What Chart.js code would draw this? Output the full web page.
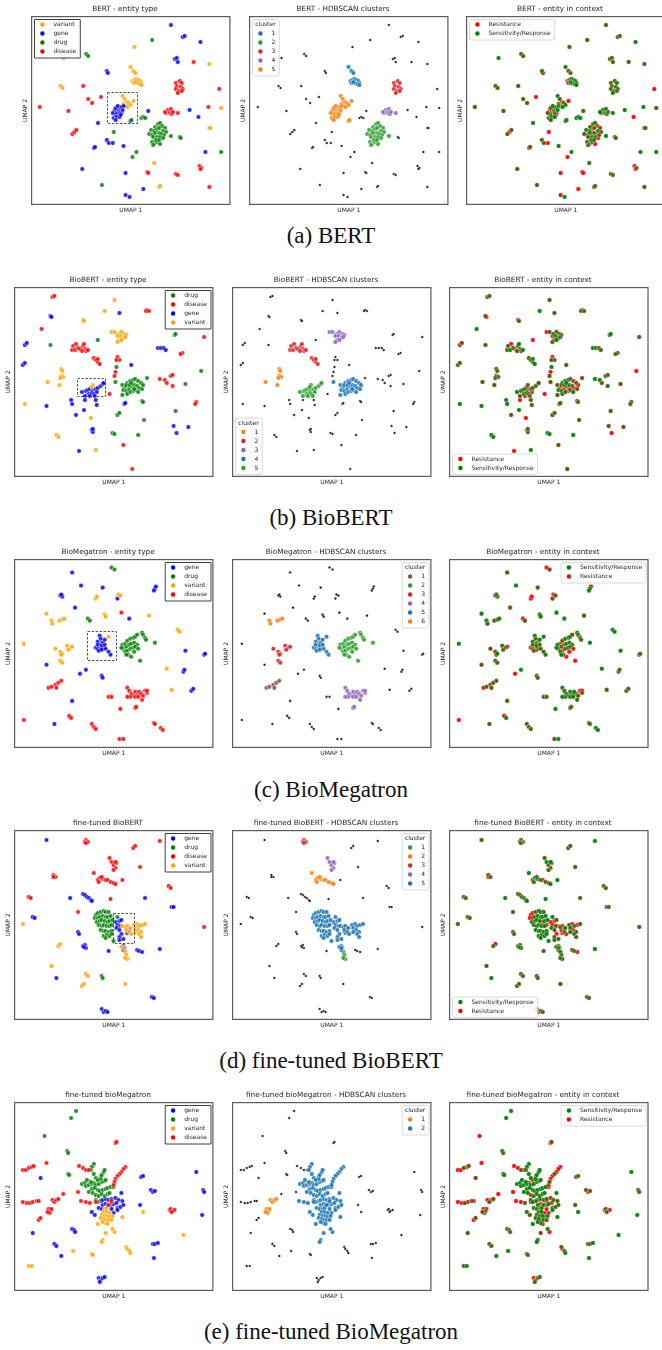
<!DOCTYPE html>
<html><head><meta charset="utf-8">
<script src="https://cdn.jsdelivr.net/npm/chart.js@4.4.1/dist/chart.umd.min.js"></script>
<style>
html,body{margin:0;padding:0;background:#fff;width:662px;height:1350px;overflow:hidden;position:relative}
canvas{position:absolute}
.cap{position:absolute;left:0;width:662px;text-align:center;font-family:'Liberation Serif','DejaVu Serif',serif;font-size:23px;color:#111;line-height:24px;white-space:nowrap}
</style></head><body>
<script>
// UMAP embeddings: each point is [umap1, umap2, hdbscanCluster (0 = noise), context]
// context: 'r' = Resistance, 's' = Sensitivity/Response, 'b' = seen in both contexts

// ---------- BERT ----------
const bertVariant = [[3.3,14.7,0,'s'],[10.5,15.8,0,'b'],[3.0,11.9,0,'b'],[3.2,11.7,0,'b'],
[10.1,13.8,1,'s'],[10.4,13.4,1,'b'],[10.6,13.2,1,'b'],
[10.3,12.4,1,'r'],[10.5,12.5,1,'b'],[10.7,12.6,1,'s'],[10.9,12.5,1,'b'],[11.1,12.4,1,'s'],[11.2,12.2,1,'b'],[10.4,12.2,1,'b'],[10.6,12.2,1,'s'],[10.8,12.2,1,'b'],[11.0,12.1,1,'r'],[10.6,12.3,1,'b'],[11.2,12.0,1,'s'],
[9.3,10.9,5,'s'],[9.5,10.6,5,'b'],[9.7,10.3,5,'r'],[9.9,10.2,5,'b'],[10.1,10.0,5,'s'],[10.4,10.4,5,'r'],[9.6,9.9,5,'b'],[9.8,9.8,5,'s'],[9.4,10.1,5,'b'],
[18.1,14.1,0,'s'],[19.3,9.7,0,'b'],[18.1,7.7,0,'b'],[18.2,7.7,0,'b'],[12.5,4.2,0,'s'],[13.0,1.8,0,'b'],[13.1,1.9,0,'b']];
const bertGene = [[14.2,18.0,0,'b'],[15.4,16.8,0,'b'],[15.6,16.9,0,'b'],[17.2,16.3,0,'s'],
[14.6,14.6,0,'b'],[14.8,14.7,0,'b'],[14.9,14.3,0,'b'],[7.7,13.4,0,'s'],[7.8,13.2,0,'r'],
[8.4,8.7,5,'b'],[8.6,9.0,5,'s'],[8.7,9.2,5,'r'],[8.9,9.5,5,'b'],[9.1,9.7,5,'s'],[9.2,9.8,5,'b'],[8.5,9.5,5,'r'],[8.6,9.7,5,'b'],[8.8,9.9,5,'s'],[9.0,9.2,5,'b'],[9.2,9.2,5,'r'],[9.3,9.5,5,'s'],[8.7,8.8,5,'b'],[9.0,8.8,5,'s'],[8.3,9.2,5,'b'],[9.4,9.9,5,'b'],[9.1,9.0,5,'r'],[8.6,8.5,5,'s'],[10.1,8.4,5,'s'],
[11.9,9.4,0,'b'],[16.1,9.5,0,'s'],[17.0,8.8,0,'r'],[6.8,8.2,0,'s'],[7.7,6.5,0,'b'],[7.9,6.2,0,'b'],[8.3,6.2,0,'r'],
[6.4,5.7,0,'r'],[6.5,5.8,0,'b'],[9.4,5.9,0,'s'],[17.7,5.3,0,'s'],[5.2,3.6,0,'b'],[9.6,3.2,0,'r'],[11.4,1.6,0,'r'],[9.6,1.0,0,'r'],[10.0,0.8,0,'s']];
const bertDrug = [[12.3,16.5,0,'b'],[5.6,15.1,0,'b'],[5.8,14.9,0,'b'],[11.2,8.7,0,'s'],[11.4,8.8,0,'s'],[11.6,8.7,0,'s'],[10.2,8.5,5,'b'],
[12.6,7.8,2,'b'],[12.9,8.1,2,'s'],[13.1,8.2,2,'b'],[13.3,7.9,2,'r'],[13.6,7.7,2,'b'],[12.2,7.5,2,'s'],[12.5,7.4,2,'b'],[12.8,7.6,2,'r'],[13.0,7.7,2,'b'],[13.4,7.4,2,'s'],[13.7,7.3,2,'b'],[12.0,7.1,2,'b'],[12.3,7.0,2,'r'],[12.6,7.2,2,'s'],[13.0,7.2,2,'b'],[13.2,7.1,2,'r'],[13.5,7.0,2,'b'],[12.4,6.8,2,'b'],[12.8,6.8,2,'s'],[13.1,6.8,2,'b'],[13.4,6.7,2,'r'],[12.3,6.3,2,'b'],[12.6,6.2,2,'s'],[12.8,6.3,2,'b'],[13.1,6.1,2,'r'],[12.4,6.0,2,'b'],[12.7,6.5,2,'b'],[13.0,6.5,2,'s'],[14.2,6.9,2,'s'],
[8.4,7.3,0,'r'],[15.1,6.8,0,'b'],[15.2,6.7,0,'b'],[10.7,5.3,0,'s'],[10.3,4.8,0,'r'],[19.3,5.3,0,'s'],[7.2,2.0,0,'b']];
const bertDisease = [[0.9,9.8,0,'b'],[3.8,9.4,0,'b'],[5.3,11.9,0,'b'],[5.8,10.6,0,'b'],[6.2,10.2,0,'b'],[7.1,10.8,0,'r'],
[4.2,7.1,0,'b'],[4.4,7.3,0,'r'],[4.6,7.5,0,'b'],[16.5,14.3,0,'b'],[19.1,11.6,0,'r'],[18.0,9.8,0,'s'],
[14.7,12.2,3,'b'],[15.1,12.4,3,'b'],[15.3,12.2,3,'s'],[14.8,11.9,3,'b'],[15.2,11.8,3,'b'],[15.4,11.6,3,'s'],[14.7,11.6,3,'b'],[15.0,11.4,3,'b'],[15.3,11.4,3,'b'],[14.9,11.2,3,'s'],
[13.9,9.5,4,'b'],[14.2,9.6,4,'s'],[13.7,9.2,4,'b'],[14.1,9.2,4,'b'],[14.3,9.1,4,'b'],[13.6,9.3,4,'s'],[14.4,9.3,4,'b'],[14.9,9.2,4,'s'],
[11.8,3.3,0,'r'],[11.9,3.2,0,'r'],[14.7,3.1,0,'b'],[14.9,3.0,0,'b'],[17.1,3.9,0,'r'],[17.3,3.7,0,'b'],[17.2,3.6,0,'r'],[18.1,1.8,0,'b']];
const bertTypeOrder = ['variant','gene','drug','disease'];
const bertClusterColors = ['#1f77b4','#2ca02c','#d62728','#9467bd','#ff7f0e'];
const bertBox = [7.7,10.7,8.2,11.3];

// ---------- BioBERT ----------
const biobertDrug = [[16.3,14.2,0,'s'],[16.4,14.3,0,'s'],[3.7,13.2,0,'b'],[8.5,13.7,0,'r'],[19.0,10.6,0,'r'],[17.4,9.3,0,'b'],[13.5,9.9,0,'b'],[10.4,11.0,0,'s'],[10.3,9.5,4,'b'],
[11.0,9.2,4,'b'],[11.3,9.0,4,'r'],[11.5,9.4,4,'s'],[11.8,9.6,4,'b'],[12.1,9.7,4,'s'],[12.3,9.8,4,'b'],[12.6,9.6,4,'r'],[12.9,9.4,4,'b'],[11.1,8.7,4,'s'],[11.4,8.6,4,'b'],[11.7,8.8,4,'r'],[11.9,9.1,4,'b'],[12.2,9.2,4,'s'],[12.5,9.1,4,'b'],[12.7,8.9,4,'r'],[13.0,8.8,4,'b'],[11.0,8.2,4,'b'],[11.5,8.3,4,'s'],[11.8,8.5,4,'b'],[12.1,8.6,4,'r'],[12.3,8.7,4,'b'],[12.6,8.5,4,'s'],[11.4,9.2,4,'b'],[11.7,9.2,4,'b'],[12.2,8.8,4,'r'],[11.9,9.4,4,'s'],[13.1,9.2,4,'r'],
[13.0,7.6,0,'b'],[13.1,7.5,0,'b'],[10.5,6.2,0,'b'],[10.7,6.4,0,'b'],[13.2,5.7,0,'b'],[16.4,6.6,0,'b'],[10.0,4.4,0,'s'],[10.2,4.3,0,'s'],[12.6,4.2,0,'s']];
const biobertDisease = [[3.9,18.0,0,'b'],[4.1,18.1,0,'b'],[13.5,16.7,0,'r'],[13.4,16.6,0,'b'],[13.7,16.6,0,'b'],[2.8,14.8,0,'s'],[19.3,14.0,0,'s'],
[6.0,13.1,2,'b'],[6.3,13.3,2,'r'],[5.9,12.7,2,'b'],[6.2,12.7,2,'s'],[6.5,12.9,2,'b'],[6.7,12.8,2,'r'],[7.0,13.1,2,'b'],[7.1,13.3,2,'s'],[7.2,12.8,2,'b'],[7.3,12.6,2,'b'],[7.5,12.7,2,'s'],[6.9,12.6,2,'b'],
[8.1,11.9,2,'b'],[8.3,11.7,2,'s'],[8.5,11.5,2,'b'],[8.7,11.3,2,'s'],[8.5,11.8,2,'b'],
[10.5,12.0,0,'r'],[10.7,11.7,0,'b'],[10.4,11.7,0,'b'],[10.3,10.5,0,'r'],[10.2,10.1,0,'b'],[9.7,8.3,0,'r'],[17.1,12.4,0,'b'],[16.9,12.3,0,'b'],
[14.8,9.8,0,'s'],[15.3,9.7,0,'s'],[15.5,9.4,0,'b'],[15.9,10.1,0,'b'],[16.1,10.2,0,'b'],[16.1,9.1,0,'s'],[18.5,7.5,0,'b'],[18.4,7.3,0,'b'],[11.1,3.2,0,'b'],[12.0,0.8,0,'b']];
const biobertGene = [[3.7,16.1,0,'b'],[3.8,16.0,0,'r'],[10.7,16.4,0,'b'],[1.1,13.2,0,'r'],[1.3,13.4,0,'b'],[0.9,11.2,0,'b'],[1.1,11.4,0,'b'],
[14.6,12.9,0,'s'],[14.9,12.9,0,'b'],[15.2,12.9,0,'b'],[15.4,12.7,0,'b'],[11.9,11.2,0,'b'],
[6.9,8.5,5,'s'],[7.3,8.6,5,'b'],[7.5,8.7,5,'s'],[7.7,8.8,5,'b'],[8.0,8.7,5,'r'],[8.3,8.8,5,'b'],[8.5,8.9,5,'s'],[8.8,9.1,5,'b'],[9.0,9.3,5,'r'],[9.1,9.4,5,'b'],[7.6,8.3,5,'b'],[7.9,8.4,5,'s'],[8.1,8.3,5,'b'],[8.4,8.5,5,'r'],[7.2,8.1,5,'b'],[7.7,8.1,5,'r'],[8.2,8.1,5,'b'],
[5.8,7.7,0,'s'],[5.9,7.3,0,'s'],[7.2,7.7,0,'r'],[8.3,7.7,0,'b'],[8.4,7.2,0,'b'],[3.3,7.1,0,'s'],[6.3,6.2,0,'b'],[7.1,6.7,0,'s'],[11.2,7.3,0,'b'],[11.3,7.4,0,'b'],
[7.9,4.7,0,'r'],[8.0,4.5,0,'b'],[8.0,4.8,0,'b'],[16.2,5.1,0,'b'],[16.5,4.4,0,'r'],[17.7,5.0,0,'b'],[6.6,2.6,0,'r']];
const biobertVariant = [[10.2,17.7,0,'b'],[9.2,16.6,0,'s'],[7.0,15.7,0,'r'],[7.1,15.6,0,'b'],
[9.9,14.5,3,'r'],[10.2,14.5,3,'b'],[10.6,14.3,3,'s'],[10.9,14.5,3,'b'],[11.2,14.3,3,'s'],[11.4,14.2,3,'b'],[10.5,14.1,3,'r'],[10.8,14.1,3,'b'],[11.1,13.9,3,'s'],[10.7,13.7,3,'b'],[10.9,13.7,3,'s'],[10.5,13.5,3,'b'],[11.3,14.0,3,'b'],
[4.8,10.8,1,'b'],[4.9,10.6,1,'b'],[4.8,10.1,1,'s'],[5.0,10.0,1,'b'],[4.7,9.9,1,'b'],[4.6,9.2,1,'b'],[3.4,9.5,1,'b'],
[8.0,9.2,5,'b'],[7.9,9.0,5,'r'],[1.1,7.3,0,'s'],[7.8,5.9,0,'r'],[4.3,4.2,0,'s'],[4.5,4.0,0,'s'],[8.3,2.7,0,'s']];
const biobertTypeOrder = ['drug','disease','gene','variant'];
const biobertClusterColors = ['#ff7f0e','#d62728','#9467bd','#1f77b4','#2ca02c'];
const biobertBox = [6.4,9.2,8.1,9.9];

// ---------- BioMegatron ----------
const bmGene = [[5.9,17.5,0,'b'],[6.8,16.2,0,'s'],[9.0,16.0,0,'b'],[14.3,15.9,0,'s'],[14.4,16.1,0,'r'],[14.2,15.7,0,'s'],[4.7,15.2,0,'s'],[4.9,15.1,0,'b'],[4.8,15.3,0,'b'],[10.5,14.9,0,'b'],[6.2,14.0,0,'b'],[11.7,12.9,0,'s'],
[8.7,11.2,5,'s'],[8.8,10.9,5,'b'],[8.5,10.6,5,'s'],[8.8,10.4,5,'b'],[9.0,10.5,5,'r'],[9.2,10.8,5,'s'],[8.3,10.0,5,'r'],[8.5,9.9,5,'b'],[8.8,9.9,5,'r'],[9.1,10.0,5,'b'],[9.3,9.9,5,'s'],[9.6,9.6,5,'b'],[9.8,9.3,5,'s'],[8.5,10.3,5,'b'],[8.9,10.2,5,'s'],[9.2,10.3,5,'b'],[8.6,9.7,5,'b'],[8.9,9.8,5,'r'],
[3.3,8.3,0,'b'],[6.7,7.4,0,'r'],[7.3,7.8,0,'s'],[8.9,7.2,0,'b'],[9.0,7.0,0,'b'],[17.4,9.7,0,'s'],[19.3,9.3,0,'b'],[19.4,9.4,0,'b'],[17.2,7.6,0,'s'],[17.3,7.8,0,'b'],[18.0,5.7,0,'b'],[18.2,5.9,0,'b'],[5.9,4.7,0,'b'],[4.1,2.4,0,'b']];
const bmDrug = [[9.9,18.0,0,'r'],[10.2,17.8,0,'b'],[7.5,12.9,0,'r'],[7.7,12.7,0,'b'],
[11.0,10.3,2,'s'],[11.3,10.4,2,'r'],[11.5,10.7,2,'b'],[11.8,10.9,2,'s'],[12.1,11.0,2,'b'],[12.3,11.1,2,'s'],[12.5,11.3,2,'b'],[11.1,9.9,2,'s'],[11.4,10.1,2,'b'],[11.7,10.3,2,'r'],[11.9,10.4,2,'s'],[12.2,10.5,2,'b'],[12.5,10.3,2,'s'],[11.3,9.6,2,'b'],[11.5,9.7,2,'r'],[11.8,9.9,2,'b'],[12.1,10.0,2,'s'],[12.3,10.1,2,'b'],[12.6,9.9,2,'r'],[10.9,10.0,2,'s'],[11.6,9.3,2,'b'],[11.9,9.1,2,'r'],[11.4,9.3,2,'s'],[12.2,9.6,2,'r'],[12.8,8.7,2,'r'],
[13.0,11.5,2,'s'],[13.1,11.3,2,'b'],[13.3,11.0,2,'b'],[13.4,10.8,2,'b'],[14.3,10.5,2,'s']];
const bmVariant = [[8.3,14.9,0,'r'],[8.4,15.1,0,'r'],[10.6,15.3,0,'r'],[10.8,15.2,0,'b'],[3.3,13.4,0,'s'],
[3.8,12.7,6,'s'],[3.9,12.4,6,'b'],[4.6,12.7,6,'b'],[4.9,12.8,6,'b'],[5.1,12.9,6,'s'],
[9.2,13.3,0,'b'],[9.3,13.1,0,'s'],[13.7,13.2,0,'b'],[16.6,11.8,0,'s'],[16.8,11.6,0,'s'],[1.0,10.4,0,'s'],
[4.2,9.9,3,'b'],[4.7,9.6,3,'b'],[4.9,9.4,3,'s'],[4.8,9.3,3,'r'],[5.4,10.2,3,'s'],[5.7,10.0,3,'b'],[5.9,10.1,3,'r'],[5.5,9.8,3,'b'],[4.7,8.7,3,'s'],[4.9,8.5,3,'b'],
[9.6,11.1,5,'s'],[15.5,7.9,0,'s'],[16.0,5.8,0,'b']];
const bmDisease = [[10.9,13.5,0,'s'],
[3.5,6.0,1,'r'],[3.8,6.1,1,'s'],[4.2,6.3,1,'r'],[4.5,6.5,1,'b'],[4.8,6.7,1,'b'],[4.3,6.0,1,'b'],
[9.6,5.1,0,'s'],[9.9,5.1,0,'b'],
[11.5,6.0,4,'s'],[11.7,5.7,4,'b'],[11.9,5.4,4,'s'],[12.1,5.2,4,'b'],[12.3,5.6,4,'s'],[12.5,5.3,4,'b'],[12.7,5.6,4,'s'],[12.9,5.4,4,'r'],[13.1,5.2,4,'b'],[13.3,5.7,4,'r'],[13.5,5.5,4,'b'],[13.0,4.8,4,'s'],[11.8,5.1,4,'b'],[11.5,5.1,4,'s'],[12.3,5.1,4,'b'],[12.6,5.1,4,'s'],[13.5,5.7,4,'r'],[12.3,4.0,4,'b'],[12.4,4.1,4,'b'],
[10.8,3.9,0,'s'],[1.0,2.8,0,'r'],[5.6,3.2,0,'r'],[5.8,3.0,0,'s'],[7.9,2.4,0,'b'],[8.1,2.1,0,'b'],[8.3,1.9,0,'b'],[14.2,2.5,0,'b'],[14.3,2.4,0,'b'],[14.9,2.0,0,'s'],[15.1,1.8,0,'s'],[10.7,0.9,0,'b'],[11.1,0.9,0,'s']];
const bmTypeOrder = ['gene','drug','variant','disease'];
const bmClusterColors = ['#8c564b','#2ca02c','#d62728','#9467bd','#1f77b4','#ff7f0e'];
const bmBox = [7.4,10.3,8.8,11.7];

// ---------- fine-tuned BioBERT ----------
const ftbGene = [[3.3,18.0,0,'b'],[5.7,12.2,0,'s'],[7.0,12.6,0,'b'],[7.2,12.5,0,'b'],[7.4,12.3,0,'s'],[7.6,12.2,0,'b'],[7.8,12.0,0,'b'],[7.9,11.9,0,'s'],[13.3,12.2,0,'b'],[16.0,11.3,0,'b'],[16.2,11.3,0,'b'],
[1.9,10.3,0,'b'],[2.1,10.2,0,'b'],[6.5,8.8,0,'b'],[6.6,8.6,0,'b'],[7.0,7.4,0,'b'],[7.2,7.5,0,'b'],[7.3,7.2,0,'s'],[7.1,7.3,0,'b'],[9.6,6.9,0,'b'],[14.8,7.1,0,'s'],[12.5,7.0,0,'b'],[12.7,6.9,0,'b'],[13.0,6.8,0,'r'],
[10.3,9.8,5,'r'],[10.7,9.9,5,'r'],[10.9,10.0,5,'b'],[10.5,9.5,5,'r'],[10.8,9.4,5,'b'],[10.4,9.2,5,'s'],[10.7,9.0,5,'b'],[10.9,8.6,5,'r'],[10.7,8.3,5,'b'],[10.7,8.0,5,'s'],[11.1,8.1,5,'b'],[11.5,8.7,5,'r'],[11.7,9.0,5,'b'],[11.1,7.4,5,'b'],[11.2,7.2,5,'s'],[11.1,7.0,5,'b'],
[4.3,4.2,0,'s'],[14.0,2.3,0,'b'],[14.2,2.2,0,'b'],[8.9,1.1,0,'b'],[9.1,0.8,0,'r'],[9.3,0.9,0,'b'],[9.5,0.8,0,'b']];
const ftbDrug = [[8.3,10.5,5,'r'],[8.5,10.7,5,'r'],[8.8,10.8,5,'b'],[9.1,10.9,5,'s'],[9.3,10.8,5,'s'],[9.6,10.8,5,'b'],[8.2,10.2,5,'r'],[8.5,10.2,5,'r'],[8.7,10.3,5,'s'],[9.0,10.4,5,'s'],[9.3,10.3,5,'b'],[9.5,10.3,5,'s'],[9.8,10.4,5,'s'],[8.4,9.8,5,'s'],[8.7,9.9,5,'b'],[8.9,10.0,5,'s'],[9.2,9.9,5,'s'],[9.5,9.8,5,'r'],[9.7,9.9,5,'s'],[10.0,10.0,5,'s'],[8.6,9.5,5,'s'],[8.9,9.4,5,'s'],[9.1,9.5,5,'b'],[9.4,9.4,5,'s'],[9.7,9.4,5,'s'],[9.9,9.5,5,'r'],[8.8,9.0,5,'s'],[9.1,8.9,5,'s'],[9.3,8.9,5,'b'],[9.6,8.8,5,'s'],[9.9,8.9,5,'s'],[9.1,8.4,5,'s'],[9.4,8.5,5,'b'],[9.7,8.4,5,'s'],[9.9,8.6,5,'s'],[9.3,8.2,5,'s'],[10.1,7.9,5,'s'],[10.5,10.3,5,'s'],
[8.9,4.4,0,'s'],[9.0,4.2,0,'b']];
const ftbDisease = [[7.3,18.0,3,'b'],[7.2,17.8,3,'b'],[7.5,17.8,3,'r'],[7.3,17.7,3,'b'],[14.8,17.9,0,'s'],[12.1,17.2,0,'b'],[12.3,17.4,0,'b'],
[9.7,16.2,4,'b'],[9.9,15.8,4,'s'],[10.1,15.5,4,'b'],[10.3,15.2,4,'b'],[10.4,15.7,4,'b'],[10.3,15.8,4,'s'],[10.1,15.0,4,'b'],
[12.8,15.3,0,'b'],[4.0,14.5,0,'b'],[4.2,14.3,0,'b'],[4.0,14.3,0,'r'],
[8.1,14.7,2,'s'],[8.5,14.0,2,'b'],[8.7,14.2,2,'b'],[9.0,14.1,2,'s'],[9.3,14.0,2,'b'],[9.5,14.0,2,'r'],[9.8,13.8,2,'b'],[10.1,13.7,2,'b'],[10.3,13.6,2,'s'],[8.6,13.8,2,'b'],[8.9,14.3,2,'b'],
[11.0,14.0,0,'s'],[15.7,13.4,0,'b'],[15.9,13.2,0,'b'],[1.5,12.3,0,'b'],[1.7,12.2,0,'b'],[9.8,12.1,0,'s'],[6.5,10.8,0,'b'],[19.3,9.3,0,'b']];
const ftbVariant = [[0.9,9.6,0,'b'],
[11.0,9.4,5,'r'],[11.3,9.3,5,'b'],[11.5,9.4,5,'r'],[11.8,9.2,5,'s'],[11.4,9.0,5,'r'],[11.7,8.8,5,'b'],[11.9,8.6,5,'r'],
[12.2,9.5,5,'b'],[12.5,9.6,5,'r'],[12.7,9.4,5,'b'],[13.0,9.5,5,'r'],[13.3,9.6,5,'b'],[12.3,9.2,5,'s'],[12.6,9.0,5,'r'],[12.9,8.8,5,'b'],[12.7,8.6,5,'s'],[12.9,8.3,5,'b'],[12.3,8.8,5,'b'],
[10.9,7.3,5,'b'],[11.1,7.2,5,'b'],[11.3,6.8,1,'s'],[11.4,6.5,1,'b'],[11.5,6.1,1,'s'],[11.3,6.2,1,'b'],
[4.5,7.4,0,'b'],[4.7,7.6,0,'r'],[3.8,5.4,0,'b'],[7.3,4.6,0,'b'],[7.5,4.4,0,'b'],[6.9,3.4,0,'b'],[7.1,3.6,0,'b'],[11.3,3.6,0,'b']];
const ftbTypeOrder = ['gene','drug','disease','variant'];
const ftbClusterColors = ['#2ca02c','#ff7f0e','#d62728','#9467bd','#1f77b4'];
const ftbBox = [10.0,12.1,7.7,10.7];

// ---------- fine-tuned bioMegatron ----------
const ftmDrug = [[6.3,18.0,0,'s'],[5.8,17.3,0,'s'],[3.1,15.5,0,'r'],[5.4,14.0,0,'s'],[5.5,13.8,0,'b'],[5.5,11.7,0,'s'],[5.6,11.6,0,'s'],
[8.1,12.7,2,'s'],[7.9,12.4,2,'s'],[7.8,12.1,2,'b'],
[6.9,10.7,2,'s'],[7.2,10.8,2,'s'],[7.3,10.5,2,'b'],[7.6,10.6,2,'s'],[7.9,10.7,2,'s'],[8.1,10.8,2,'r'],[8.3,10.6,2,'s'],[8.6,10.7,2,'s'],[8.9,10.9,2,'s'],[9.1,11.0,2,'b'],[9.3,11.1,2,'s'],[8.8,11.4,2,'s'],[8.8,11.2,2,'s'],[8.9,11.6,2,'s'],[9.1,11.9,2,'s'],[9.2,12.1,2,'s'],[8.3,11.3,2,'s'],[8.5,11.1,2,'r'],[8.1,11.7,2,'s'],[7.9,10.2,2,'s'],[8.2,10.3,2,'s'],[8.5,10.1,2,'s'],[8.7,10.0,2,'b'],[9.0,10.1,2,'s'],[9.3,10.2,2,'s'],[9.5,10.3,2,'s'],[9.8,10.4,2,'s'],[10.1,10.4,2,'r'],[7.6,9.9,2,'s'],[8.0,9.8,2,'s'],[8.3,9.6,2,'r'],[8.6,9.5,2,'s'],[8.9,9.7,2,'s'],[9.2,9.5,2,'s'],[9.5,9.7,2,'s'],[9.7,9.8,2,'s'],[8.3,9.1,2,'s'],[8.5,8.9,2,'s'],[7.8,10.9,2,'s'],[7.4,11.1,2,'s']];
const ftmDisease = [[10.3,14.8,0,'r'],[10.4,14.9,0,'b'],[0.9,12.1,0,'r'],[1.2,12.1,0,'r'],[1.5,12.3,0,'b'],[1.8,12.4,0,'r'],[2.0,12.5,0,'b'],[3.3,12.8,0,'r'],
[6.6,12.5,0,'r'],[7.0,12.3,0,'r'],[7.3,12.1,0,'b'],[7.6,12.1,0,'r'],
[11.3,12.4,2,'r'],[11.1,12.2,2,'r'],[10.9,11.9,2,'r'],[10.7,11.7,2,'b'],[10.5,11.5,2,'r'],[10.3,11.2,2,'r'],[10.2,10.9,2,'b'],[10.1,10.6,2,'r'],
[5.0,9.7,0,'r'],[6.5,9.9,0,'r'],[0.9,8.9,0,'r'],[1.3,8.8,0,'r'],[1.6,8.8,0,'b'],[1.9,8.9,0,'r'],[2.3,9.0,0,'b'],[2.5,9.0,0,'r'],
[3.9,9.1,1,'r'],[4.1,8.9,1,'b'],[4.3,9.1,1,'r'],[4.5,9.2,1,'b'],[3.5,8.2,1,'r'],[3.7,8.0,1,'b'],[3.8,8.2,1,'r'],[3.6,7.8,1,'r'],[3.4,7.9,1,'b'],
[2.5,7.1,0,'r'],[2.7,7.3,0,'b'],[6.8,9.0,2,'r'],[7.3,8.9,2,'r'],[7.7,8.8,2,'b'],[8.3,8.9,2,'r'],
[15.8,8.1,0,'r'],[15.9,8.2,0,'b'],[16.1,8.0,0,'r'],[16.3,8.1,0,'r'],[16.0,7.9,0,'b'],[9.8,8.8,2,'r'],[9.9,9.0,2,'r'],[9.6,8.6,2,'b']];
const ftmGene = [[2.7,11.3,0,'b'],[12.9,11.4,0,'b'],[13.1,11.5,0,'b'],[13.9,10.1,0,'b'],[14.1,9.9,0,'r'],[14.3,10.0,0,'b'],[18.5,11.9,0,'s'],[19.2,10.1,0,'b'],[19.3,9.9,0,'b'],[19.1,7.6,0,'s'],[12.8,8.6,0,'b'],
[8.8,9.0,2,'s'],[9.0,9.1,2,'r'],[9.3,9.2,2,'s'],[9.6,9.1,2,'b'],[9.9,9.2,2,'s'],[10.3,9.3,2,'r'],[10.6,9.1,2,'s'],[10.9,9.8,2,'s'],[11.0,9.0,2,'b'],[9.0,8.6,2,'s'],[9.3,8.7,2,'r'],[9.5,8.5,2,'s'],[9.9,8.6,2,'b'],[10.1,8.7,2,'s'],[10.4,8.8,2,'r'],[8.6,8.3,2,'s'],[8.9,8.2,2,'b'],[9.3,8.1,2,'s'],[9.9,8.2,2,'r'],[10.5,8.3,2,'s'],[10.8,8.4,2,'b'],[7.9,7.9,2,'s'],[8.2,7.6,2,'b'],[10.1,7.8,2,'r'],[10.5,8.1,2,'s'],[11.1,8.6,2,'s'],
[1.9,5.8,0,'b'],[5.9,6.2,0,'b'],[6.1,6.1,0,'b'],[6.2,5.9,0,'b'],[4.1,4.7,0,'b'],[4.3,4.5,0,'b'],[4.8,3.5,0,'s'],[14.1,4.7,0,'b'],[14.3,4.7,0,'b'],[14.6,4.8,0,'s'],[14.2,3.3,0,'s'],
[8.6,1.3,0,'r'],[8.8,1.1,0,'b'],[9.0,1.3,0,'b'],[9.2,1.4,0,'b'],[8.7,0.9,0,'b']];
const ftmVariant = [[13.1,7.9,0,'s'],[17.2,5.6,0,'s'],
[9.2,8.2,2,'r'],[9.4,8.3,2,'s'],[9.1,7.9,2,'b'],[9.4,7.9,2,'s'],[9.7,7.8,2,'r'],[8.9,7.6,2,'s'],[9.2,7.5,2,'b'],[9.5,7.5,2,'s'],[9.7,7.4,2,'r'],[10.0,7.5,2,'s'],[8.8,7.3,2,'b'],[9.1,7.2,2,'s'],[9.3,7.1,2,'r'],[9.6,7.1,2,'s'],[9.9,7.1,2,'b'],[9.3,6.8,2,'s'],[9.5,6.7,2,'r'],[9.0,6.9,2,'s'],[8.5,6.7,2,'s'],[10.2,5.9,2,'r'],[10.0,6.2,2,'s'],[9.3,5.8,2,'b'],[9.0,5.1,2,'s'],[8.9,4.9,2,'s'],[11.0,7.4,2,'s'],
[11.4,4.4,0,'b'],[11.5,4.2,0,'r'],[11.7,4.0,0,'b'],[11.8,3.8,0,'s'],[6.0,4.0,0,'s'],[7.9,3.7,0,'b'],[8.0,3.6,0,'b'],[1.5,2.5,0,'b'],[1.8,2.5,0,'s']];
const ftmTypeOrder = ['gene','drug','variant','disease'];
const ftmClusterColors = ['#ff7f0e','#1f77b4'];

// ---------- shared styling ----------
const entityColors = {variant:'#ffa500', gene:'#0000ff', drug:'#008000', disease:'#ff0000'};
const contextColors = {'Resistance':'#ff0000', 'Sensitivity/Response':'#008000'};
const contextCodes = {'Resistance':'r', 'Sensitivity/Response':'s'};
// Resistance is painted first, Sensitivity/Response over it
const contextPaintOrder = ['Resistance', 'Sensitivity/Response'];
const FONT = "'DejaVu Sans', sans-serif";

Chart.defaults.font.family = FONT;
Chart.defaults.color = '#262626';

function rgba(hex, a) {
  const n = parseInt(hex.slice(1), 16);
  return `rgba(${n >> 16},${(n >> 8) & 255},${n & 255},${a})`;
}
const toXY = list => list.map(p => ({x: p[0], y: p[1]}));

// later datasets are painted over earlier ones (lower order = on top)
function pointStyle(idx, fill, radius, edge, edgeW) {
  return {order: -idx, backgroundColor: fill, borderColor: edge, pointBackgroundColor: fill, pointBorderColor: edge,
    pointBorderWidth: edgeW, borderWidth: edgeW, pointRadius: radius, showLine: false};
}

function entityDatasets(byType, order) {
  return order.map((t, i) => Object.assign({label: t, data: toXY(byType[t])},
    pointStyle(i, rgba(entityColors[t], 0.85), 2.3, 'rgba(255,255,255,0.9)', 0.5)));
}

function clusterDatasets(byType, colors) {
  const all = Object.values(byType).flat();
  const sets = [Object.assign({label: 'noise', data: toXY(all.filter(p => p[2] === 0))},
    pointStyle(0, 'rgba(0,0,0,0.9)', 1.3, 'rgba(255,255,255,0.8)', 0.4))];
  colors.forEach((c, i) => sets.push(Object.assign({label: String(i + 1), data: toXY(all.filter(p => p[2] === i + 1))},
    pointStyle(i + 1, rgba(c, 0.9), 2.3, 'rgba(255,255,255,0.9)', 0.5))));
  return sets;
}

function contextDatasets(byType) {
  const all = Object.values(byType).flat();
  return contextPaintOrder.map((lab, k) => {
    const pts = all.filter(p => p[3] === contextCodes[lab] || p[3] === 'b');
    // for shared points the lower colour shows through the upper one
    const fill = pts.map(p => (k > 0 && p[3] === 'b') ? rgba(contextColors[lab], 0.6) : rgba(contextColors[lab], 0.95));
    return Object.assign({label: lab, data: toXY(pts)}, pointStyle(k, fill, 2.3, 'rgba(255,255,255,0.8)', 0.4));
  });
}

// frame, dashed zoom box and in-axes legend
const decor = {
  id: 'decor',
  afterDatasetsDraw(chart, _args, o) {
    const {ctx, chartArea: a, scales: {x, y}} = chart;
    ctx.save();
    if (o.box) {
      const L = x.getPixelForValue(o.box[0]), R = x.getPixelForValue(o.box[1]);
      const B = y.getPixelForValue(o.box[2]), T = y.getPixelForValue(o.box[3]);
      ctx.setLineDash([2.5, 1.5]); ctx.strokeStyle = '#333'; ctx.lineWidth = 0.8;
      ctx.strokeRect(Math.round(L) + 0.5, Math.round(T) + 0.5, Math.round(R - L), Math.round(B - T));
      ctx.setLineDash([]);
    }
    ctx.strokeStyle = '#5c5c5c'; ctx.lineWidth = 1.2;
    ctx.strokeRect(a.left + 0.6, a.top + 0.6, a.width - 1.2, a.height - 1.2);
    if (o.legend) drawLegend(ctx, a, o.legend);
    ctx.restore();
  }
};

function drawLegend(ctx, a, lg) {
  ctx.font = `6px ${FONT}`;
  const rows = lg.items.length + (lg.title ? 1 : 0);
  const textW = Math.max(...lg.items.map(it => ctx.measureText(it.label).width));
  let w = 19.5 + textW + 3.5;
  if (lg.title) w = Math.max(w, ctx.measureText(lg.title).width + 6);
  const h = rows * 9 + 2.5;
  const left = lg.corner.includes('l') ? a.left + 3 : a.right - 3 - w;
  const top = lg.corner.includes('t') ? a.top + 3 : a.bottom - 3 - h;
  ctx.beginPath();
  if (lg.dark) {
    ctx.rect(left + 0.5, top + 0.5, w, h);
    ctx.fillStyle = 'rgba(255,255,255,0.9)'; ctx.fill();
    ctx.strokeStyle = '#2a2a2a'; ctx.lineWidth = 0.9; ctx.stroke();
  } else {
    ctx.roundRect(left + 0.5, top + 0.5, w, h, 2);
    ctx.fillStyle = 'rgba(255,255,255,0.85)'; ctx.fill();
    ctx.strokeStyle = '#d0d0d0'; ctx.lineWidth = 0.8; ctx.stroke();
  }
  ctx.textBaseline = 'middle';
  let r = 0;
  if (lg.title) {
    ctx.fillStyle = '#262626'; ctx.textAlign = 'center';
    ctx.fillText(lg.title, left + w / 2, top + 5.5);
    r = 1;
  }
  ctx.textAlign = 'left';
  lg.items.forEach((it, i) => {
    const cy = top + 5.5 + (i + r) * 9;
    ctx.beginPath(); ctx.arc(left + 8.4, cy, 2.2, 0, Math.PI * 2);
    ctx.fillStyle = it.color; ctx.fill();
    ctx.fillStyle = '#262626';
    ctx.fillText(it.label, left + 19.5, cy + 0.3);
  });
}

function panel(frame, yMax, title, datasets, decorOpts) {
  const [fl, ft, fw, fh] = frame;
  const c = document.createElement('canvas');
  const W = fw + 16, H = fh + 26;
  c.width = W; c.height = H;
  c.style.left = (fl - 14) + 'px'; c.style.top = (ft - 14) + 'px';
  c.style.width = W + 'px'; c.style.height = H + 'px';
  document.body.appendChild(c);
  new Chart(c, {
    type: 'scatter',
    data: {datasets},
    plugins: [decor],
    options: {
      responsive: false, animation: false, devicePixelRatio: 1, events: [],
      layout: {padding: {right: 2}},
      plugins: {
        legend: {display: false}, tooltip: {enabled: false},
        title: {display: true, text: title, font: {size: 7.3, weight: 'normal'}, color: '#262626', padding: {top: 3, bottom: 2.24}},
        decor: decorOpts
      },
      scales: {
        x: {type: 'linear', min: 0, max: 20.25, ticks: {display: false}, grid: {display: false, drawTicks: false}, border: {display: false},
            title: {display: true, text: 'UMAP 1', font: {size: 6}, padding: {top: 0, bottom: 3.4}},
            afterFit(s) { s.height = 12; }},
        y: {type: 'linear', min: 0, max: yMax, ticks: {display: false}, grid: {display: false, drawTicks: false}, border: {display: false},
            title: {display: true, text: 'UMAP 2', font: {size: 6}, padding: {top: 4.4, bottom: 0}},
            afterFit(s) { s.width = 14; }}
      }
    }
  });
}

function addRow(row) {
  const byType = row.points;
  const typeItems = row.typeOrder.map(t => ({label: t, color: entityColors[t]}));
  const clusterItems = row.clusterColors.map((c, i) => ({label: String(i + 1), color: c}));
  const ctxItems = row.contextOrder.map(l => ({label: l, color: contextColors[l]}));
  const f = i => [row.lefts[i], row.top, 202, row.h];
  panel(f(0), row.yMax, row.titles[0], entityDatasets(byType, row.typeOrder),
    {box: row.box, legend: {items: typeItems, corner: row.corners[0], dark: true}});
  panel(f(1), row.yMax, row.titles[1], clusterDatasets(byType, row.clusterColors),
    {legend: {items: clusterItems, title: 'cluster', corner: row.corners[1]}});
  panel(f(2), row.yMax, row.titles[2], contextDatasets(byType),
    {legend: {items: ctxItems, corner: row.corners[2]}});
  const cap = document.createElement('div');
  cap.className = 'cap'; cap.textContent = row.caption;
  cap.style.top = (row.captionY - 12) + 'px';
  document.body.appendChild(cap);
}

const resFirst = ['Resistance', 'Sensitivity/Response'];
const sensFirst = ['Sensitivity/Response', 'Resistance'];

addRow({points: {variant: bertVariant, gene: bertGene, drug: bertDrug, disease: bertDisease},
  typeOrder: bertTypeOrder, clusterColors: bertClusterColors, contextOrder: resFirst, box: bertBox,
  titles: ['BERT - entity type', 'BERT - HDBSCAN clusters', 'BERT - entity in context'],
  lefts: [31, 249, 466], top: 16, h: 189, yMax: 18.9, corners: ['tl', 'tl', 'tl'], caption: '(a) BERT', captionY: 236});
addRow({points: {drug: biobertDrug, disease: biobertDisease, gene: biobertGene, variant: biobertVariant},
  typeOrder: biobertTypeOrder, clusterColors: biobertClusterColors, contextOrder: resFirst, box: biobertBox,
  titles: ['BioBERT - entity type', 'BioBERT - HDBSCAN clusters', 'BioBERT - entity in context'],
  lefts: [14, 232, 449], top: 287, h: 190, yMax: 19.0, corners: ['tr', 'bl', 'bl'], caption: '(b) BioBERT', captionY: 518});
addRow({points: {gene: bmGene, drug: bmDrug, variant: bmVariant, disease: bmDisease},
  typeOrder: bmTypeOrder, clusterColors: bmClusterColors, contextOrder: sensFirst, box: bmBox,
  titles: ['BioMegatron - entity type', 'BioMegatron - HDBSCAN clusters', 'BioMegatron - entity in context'],
  lefts: [14, 232, 449], top: 559, h: 189, yMax: 18.85, corners: ['tr', 'tr', 'tr'], caption: '(c) BioMegatron', captionY: 790});
addRow({points: {gene: ftbGene, drug: ftbDrug, disease: ftbDisease, variant: ftbVariant},
  typeOrder: ftbTypeOrder, clusterColors: ftbClusterColors, contextOrder: sensFirst, box: ftbBox,
  titles: ['fine-tuned BioBERT', 'fine-tuned BioBERT - HDBSCAN clusters', 'fine-tuned BioBERT - entity in context'],
  lefts: [14, 232, 449], top: 830, h: 190, yMax: 19.0, corners: ['tr', 'tr', 'bl'], caption: '(d) fine-tuned BioBERT', captionY: 1061});
addRow({points: {gene: ftmGene, drug: ftmDrug, variant: ftmVariant, disease: ftmDisease},
  typeOrder: ftmTypeOrder, clusterColors: ftmClusterColors, contextOrder: sensFirst, box: null,
  titles: ['fine-tuned bioMegatron', 'fine-tuned bioMegatron - HDBSCAN clusters', 'fine-tuned bioMegatron - entity in context'],
  lefts: [14, 232, 449], top: 1102, h: 189, yMax: 18.9, corners: ['tr', 'tr', 'tr'], caption: '(e) fine-tuned BioMegatron', captionY: 1332});
</script>
</body></html>
